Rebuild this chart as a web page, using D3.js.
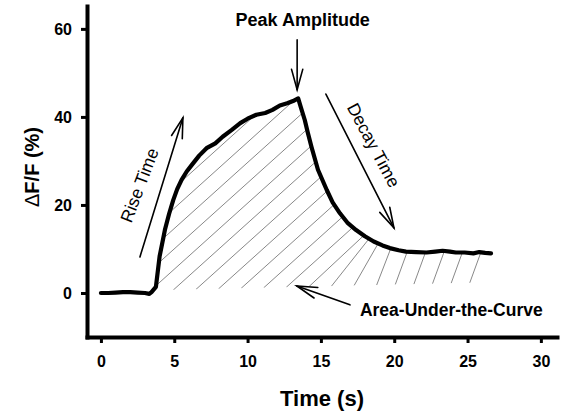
<!DOCTYPE html>
<html>
<head>
<meta charset="utf-8">
<script src="https://cdn.jsdelivr.net/npm/d3@7"></script>
<style>
  html, body { margin: 0; padding: 0; background: #fff; }
  svg { display: block; }
  text { font-family: "Liberation Sans", Arial, sans-serif; fill: #000; }
</style>
</head>
<body>
<svg id="chart" width="571" height="414"></svg>
<script>
// Calcium transient: time (s) and fluorescence change ΔF/F (%)
const timeS = [0, 0.5, 1, 1.5, 2, 2.5, 3, 3.3, 3.45, 3.75, 4.0, 4.36, 4.65, 4.93, 5.2, 5.5, 5.85, 6.2, 6.7, 7.2, 7.8, 8.3, 8.9, 9.5, 10.0, 10.6, 11.2, 11.7, 12.2, 12.7, 13.1, 13.45,
               13.65, 13.9, 14.1, 14.35, 14.8, 15.4, 15.8, 16.3, 16.8, 17.4, 18.0, 18.6, 19.2, 19.7, 20.3, 20.8, 21.5, 22.2, 22.8, 23.3, 23.8, 24.2, 24.8, 25.4, 25.8, 26.2, 26.6];
const dff   = [0, 0, 0.1, 0.2, 0.2, 0.1, 0, -0.2, 0.2, 1.4, 8.3, 14.3, 18.0, 21.1, 23.6, 25.7, 27.6, 29.1, 31.2, 32.9, 34.0, 35.5, 37.0, 38.6, 39.6, 40.5, 40.9, 41.6, 42.6, 43.1, 43.6, 44.2,
               42.0, 39.3, 36.5, 33.3, 28.0, 23.4, 20.6, 18.1, 16.0, 14.3, 12.9, 11.7, 10.8, 10.2, 9.7, 9.4, 9.3, 9.2, 9.4, 9.6, 9.4, 9.2, 9.2, 9.0, 9.3, 9.1, 9.0];

const xTicks = [0, 5, 10, 15, 20, 25, 30];
const yTicks = [0, 20, 40, 60];

const xTitle = "Time (s)";
const yTitleDelta = "\u0394";
const yTitleRest = "F/F (%)";

// Annotations in data units
const peakLabel  = { text: "Peak Amplitude", t: 13.76, v: 60.6 };
const peakArrow  = { from: [13.38, 57.5], to: [13.38, 46.2] };
const riseLabel  = { text: "Rise Time", t: 2.62, v: 24.5, angle: -69 };
const riseArrow  = { from: [2.66, 8.2], to: [5.59, 39.8] };
const decayLabel = { text: "Decay Time", t: 18.6, v: 33.6, angle: 62 };
const decayArrow = { from: [15.34, 45.2], to: [19.98, 14.8] };
const aucLabel   = { text: "Area-Under-the-Curve", t: 17.66, v: -5.3 };
const aucArrow   = { from: [16.98, -2.7], to: [13.36, 1.6] };

const svg = d3.select("#chart");

const x = d3.scaleLinear().domain([-0.95, 31.1]).range([87, 557]);
const y = d3.scaleLinear().domain([-10, 65.2]).range([337, 6]);

const pts = timeS.map((t, i) => ({ t, v: dff[i] }));

// Hatched area under the curve
const floor = d3.scaleLinear().domain([3.8, 26.5]).range([0.6, 2.4]).clamp(true);
const areaPts = pts.filter(d => d.t >= 3.75);
const area = d3.area()
  .x(d => x(d.t))
  .y0(d => y(floor(d.t)))
  .y1(d => y(d.v));

svg.append("clipPath").attr("id", "aucClip")
  .append("path").attr("d", area(areaPts));

const hatch = svg.append("g").attr("clip-path", "url(#aucClip)");
const angleAt = d3.scaleLinear().domain([14, 19]).range([42, 70]).clamp(true);
for (let t = -12; t <= 26.4; t += (t < 18.5 ? 1.54 : 1.27)) {
  const a = angleAt(t) * Math.PI / 180;
  const x0 = x(t), y0 = y(floor(t));
  const len = 420;
  hatch.append("line")
    .attr("x1", x0).attr("y1", y0)
    .attr("x2", x0 + len * Math.cos(a)).attr("y2", y0 - len * Math.sin(a))
    .attr("stroke", "#6a6a6a").attr("stroke-width", 0.8);
}

// Trace
const line = d3.line().x(d => x(d.t)).y(d => y(d.v));
svg.append("path")
  .attr("d", line(pts))
  .attr("fill", "none")
  .attr("stroke", "#000")
  .attr("stroke-width", 4.2)
  .attr("stroke-linejoin", "round")
  .attr("stroke-linecap", "round");

// Axes
const xAxis = d3.axisBottom(x).tickValues(xTicks).tickSize(6).tickSizeOuter(0).tickPadding(13);
const yAxis = d3.axisLeft(y).tickValues(yTicks).tickSize(6).tickSizeOuter(0).tickPadding(9);

const gx = svg.append("g").attr("transform", `translate(0,${y(-10)})`).call(xAxis);
const gy = svg.append("g").attr("transform", `translate(${x(-0.95)},0)`).call(yAxis);

[gx, gy].forEach(g => {
  g.select(".domain").attr("stroke", "#000").attr("stroke-width", 4).attr("stroke-linecap", "square");
  g.selectAll(".tick line").attr("stroke", "#000").attr("stroke-width", 3);
  g.selectAll(".tick text")
    .attr("font-size", 16).attr("font-weight", "bold")
    .attr("font-family", "'Liberation Sans', Arial, sans-serif").attr("fill", "#000");
});

// Axis titles
svg.append("text")
  .attr("x", 322).attr("y", 406)
  .attr("text-anchor", "middle")
  .attr("font-size", 22).attr("font-weight", "bold")
  .text(xTitle);

const yt = svg.append("text")
  .attr("transform", "translate(39,167) rotate(-90)")
  .attr("text-anchor", "middle")
  .attr("font-size", 20).attr("font-weight", "bold");
yt.append("tspan").attr("font-weight", "normal").text(yTitleDelta);
yt.append("tspan").text(yTitleRest);

// Arrows with open heads
function arrow(a) {
  const x1 = x(a.from[0]), y1 = y(a.from[1]);
  const x2 = x(a.to[0]), y2 = y(a.to[1]);
  const ang = Math.atan2(y2 - y1, x2 - x1);
  const hl = 21, spread = 0.27;
  const g = svg.append("g").attr("stroke", "#000").attr("stroke-width", 1.6).attr("fill", "none")
    .attr("stroke-linecap", "round");
  g.append("line").attr("x1", x1).attr("y1", y1).attr("x2", x2).attr("y2", y2);
  g.append("path").attr("d",
    `M${x2 - hl * Math.cos(ang - spread)},${y2 - hl * Math.sin(ang - spread)}` +
    `L${x2},${y2}` +
    `L${x2 - hl * Math.cos(ang + spread)},${y2 - hl * Math.sin(ang + spread)}`);
}
[peakArrow, riseArrow, decayArrow, aucArrow].forEach(arrow);

// Annotation labels
svg.append("text")
  .attr("x", x(peakLabel.t)).attr("y", y(peakLabel.v))
  .attr("text-anchor", "middle")
  .attr("font-size", 18).attr("font-weight", "bold")
  .text(peakLabel.text);

svg.append("text")
  .attr("x", x(aucLabel.t)).attr("y", y(aucLabel.v))
  .attr("text-anchor", "start")
  .attr("font-size", 17.5).attr("font-weight", "bold")
  .text(aucLabel.text);

[riseLabel, decayLabel].forEach(l => {
  svg.append("text")
    .attr("transform", `translate(${x(l.t)},${y(l.v)}) rotate(${l.angle})`)
    .attr("text-anchor", "middle")
    .attr("dy", "0.35em")
    .attr("font-size", 17.5)
    .text(l.text);
});
</script>
</body>
</html>
